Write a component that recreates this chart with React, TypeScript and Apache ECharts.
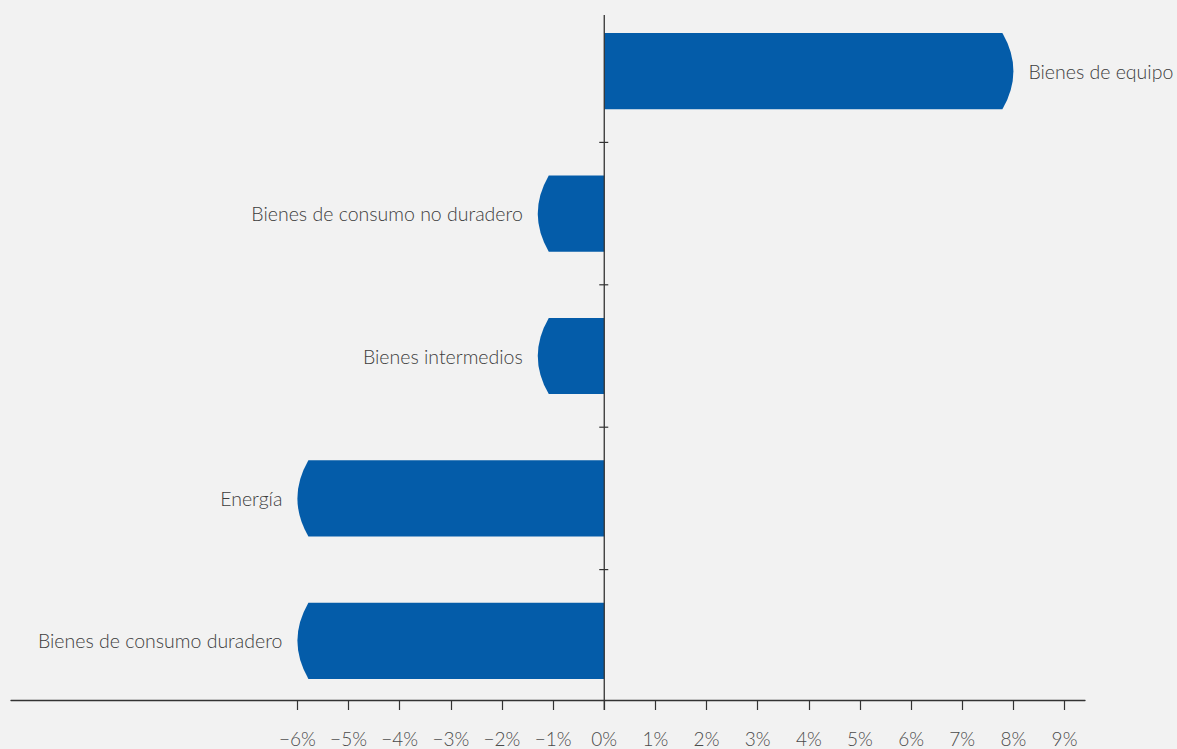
import React, { useEffect, useRef } from 'react';
import * as echarts from 'echarts';

const categories = [
  'Bienes de equipo',
  'Bienes de consumo no duradero',
  'Bienes intermedios',
  'Energía',
  'Bienes de consumo duradero',
];
const values = [8.0, -1.3, -1.3, -6.0, -6.0];
const tickValues = [-6, -5, -4, -3, -2, -1, 0, 1, 2, 3, 4, 5, 6, 7, 8, 9];

const FONT = 'Lato';
const BAR = '#045ca9';
const AXIS = '#333333';

export default function App() {
  const ref = useRef<HTMLDivElement>(null);
  useEffect(() => {
    const chart = echarts.init(ref.current!, null, { renderer: 'svg' });
    const renderItem = (params: any, api: any) => {
      const v = api.value(0);
      const idx = api.value(1);
      const zero = api.coord([0, idx]);
      const end = api.coord([v, idx]);
      const band = api.size([0, 1])[1];
      const h = band * 0.535;
      const yc = zero[1];
      const yt = yc - h / 2;
      const yb = yc + h / 2;
      const dir = v >= 0 ? 1 : -1;
      const depth = 11;
      const xt = end[0];
      const xc = xt - dir * depth;
      const d = `M ${zero[0]} ${yt} L ${xc} ${yt} Q ${xc + dir * 2 * depth} ${yc} ${xc} ${yb} L ${zero[0]} ${yb} Z`;
      return {
        type: 'group',
        children: [
          { type: 'path', shape: { pathData: d }, style: { fill: BAR } },
          {
            type: 'text',
            style: {
              text: categories[params.dataIndex],
              x: xt + dir * 15,
              y: yc,
              align: dir > 0 ? 'left' : 'right',
              verticalAlign: 'middle',
              fontFamily: FONT,
              fontWeight: 300,
              fontSize: 19.5,
              fill: '#3d3d3d',
            },
          },
        ],
      };
    };
    const option: any = {
      animation: false,
      backgroundColor: '#f2f2f2',
      grid: { left: 11, right: 92, top: 0, bottom: 37 },
      xAxis: {
        type: 'value',
        min: -11.6,
        max: 9.4,
        offset: -12,
        splitLine: { show: false },
        axisLine: { show: true, onZero: false, lineStyle: { color: AXIS, width: 1.3 } },
        axisTick: { show: true, length: 10, customValues: tickValues, lineStyle: { color: AXIS, width: 1.2 } },
        axisLabel: {
          customValues: tickValues,
          formatter: (v: number) => (v < 0 ? '\u2212' + Math.abs(v) : String(v)) + '%',
          margin: 29,
          fontFamily: FONT,
          fontWeight: 300,
          fontSize: 19,
          color: '#4a4a4a',
        },
      },
      yAxis: {
        type: 'category',
        data: categories,
        inverse: true,
        axisLine: { show: false },
        axisTick: { show: false },
        axisLabel: { show: false },
        splitLine: { show: false },
      },
      series: [
        {
          type: 'custom',
          data: values.map((v, i) => [v, i]),
          encode: { x: 0, y: 1 },
          renderItem,
          clip: false,
        },
      ],
    };
    chart.setOption(option);
    const x0 = chart.convertToPixel({ xAxisIndex: 0 }, 0) as number;
    const centers = categories.map((c) => chart.convertToPixel({ yAxisIndex: 0 }, c) as number);
    const graphics: any[] = [
      { type: 'line', z: 100, shape: { x1: x0, y1: 15, x2: x0, y2: 710 }, style: { stroke: AXIS, lineWidth: 1.3 } },
    ];
    for (let i = 0; i < centers.length - 1; i++) {
      const y = (centers[i] + centers[i + 1]) / 2;
      graphics.push({ type: 'line', z: 100, shape: { x1: x0 - 5, y1: y, x2: x0 + 4, y2: y }, style: { stroke: AXIS, lineWidth: 1.2 } });
    }
    chart.setOption({ graphic: graphics });
    return () => chart.dispose();
  }, []);
  return <div ref={ref} style={{ position: 'fixed', left: 0, top: 0, width: 1177, height: 749 }} />;
}
